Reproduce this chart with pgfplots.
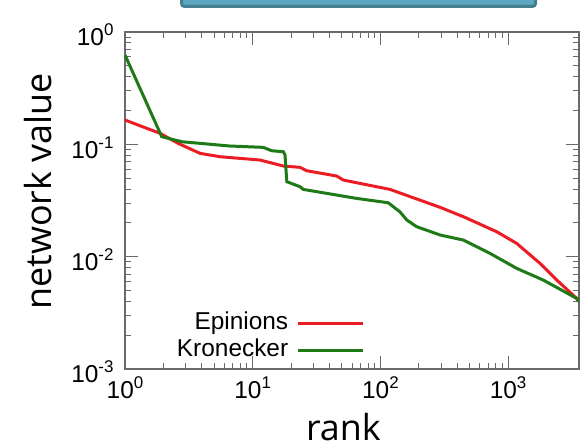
\documentclass[border=0pt]{standalone}
\usepackage{pgfplots}
\pgfplotsset{compat=1.18}
\usepackage{fontspec}
\setmainfont{Liberation Sans}
\newfontfamily\labelfont{Open Sans}
\definecolor{epired}{RGB}{236,28,36}
\definecolor{krogreen}{RGB}{30,122,22}
\definecolor{axgray}{RGB}{105,105,105}
\definecolor{boxfill}{RGB}{92,166,194}
\definecolor{boxedge}{RGB}{66,128,145}
\newcommand{\tp}[1]{10\raisebox{10bp}{\fontsize{17}{17}\selectfont #1}}
\begin{document}
\begin{tikzpicture}
\useasboundingbox (-125bp,-79bp) rectangle (455bp,369bp);
\draw[boxedge, line width=3bp, fill=boxfill, rounded corners=3bp] (56.5bp,362.5bp) rectangle (410.5bp,390bp);
\begin{axis}[
  at={(0,0)}, anchor=south west,
  scale only axis, width=454bp, height=337bp,
  xmode=log, ymode=log,
  xmin=1, xmax=3590, ymin=1e-3, ymax=1,
  xtick={1,10,100,1000},
  xticklabels={\tp{0},\tp{1},\tp{2},\tp{3}},
  ytick={1e-3,1e-2,1e-1,1},
  yticklabels={\tp{-3},\tp{-2},\tp{-1},\tp{0}},
  tick label style={font=\fontsize{24.5}{28}\selectfont},
  yticklabel style={xshift=-8bp, yshift=-3bp},
  xticklabel style={yshift=-4bp},
  axis line style={axgray, line width=1.2bp},
  every tick/.style={axgray, line width=1bp},
  major tick length=13bp, minor tick length=6bp,
  tick align=inside,
  xlabel={rank}, ylabel={network value},
  every axis x label/.style={at={(rel axis cs:0.481,-0.213)}, anchor=base, font=\labelfont\fontsize{36}{40}\selectfont},
  every axis y label/.style={at={(rel axis cs:-0.1608,0.527)}, anchor=base, rotate=90, font=\labelfont\fontsize{36}{40}\selectfont},
  legend plot pos=right,
  legend cell align=right,
  legend image code/.code={\draw[#1, line width=3bp] (0bp,0bp) -- (65bp,0bp);},
  legend style={draw=none, fill=none, inner sep=0pt, outer sep=0pt,
    at={(rel axis cs:0.528,0.175)}, anchor=north east,
    font=\fontsize{24.5}{28}\selectfont,
    nodes={text height=17bp, text depth=5bp, inner sep=2.5bp},
    column sep=6bp},
]
\addplot[epired, line width=3bp] coordinates {
(1,0.1645) (1.88,0.1253) (2.61,0.102) (3.87,0.0831) (5.55,0.0776)
(11.4,0.0725) (17.4,0.0641) (23.5,0.0624) (26.5,0.0582) (45.5,0.0522)
(51.2,0.0481) (119,0.0397) (293,0.0275) (446,0.0227) (814,0.01667)
(1167,0.01313) (1778,0.00871) (2404,0.00619) (3444,0.00425) (3590,0.0040)
};
\addlegendentry{Epinions}
\addplot[krogreen, line width=3bp] coordinates {
(1,0.624) (1.94,0.117) (2.78,0.1055) (6.64,0.0966) (12.1,0.094)
(14.1,0.0877) (17.4,0.0859) (17.9,0.0803) (18.5,0.0465) (23.5,0.0419)
(24.9,0.0397) (65.2,0.0330) (115,0.0302) (142,0.0251) (161,0.0212)
(192,0.0185) (293,0.0156) (446,0.01406) (721,0.0107) (1167,0.00787)
(1886,0.00619) (3444,0.00425) (3590,0.0040)
};
\addlegendentry{Kronecker}
\end{axis}
\end{tikzpicture}
\end{document}
